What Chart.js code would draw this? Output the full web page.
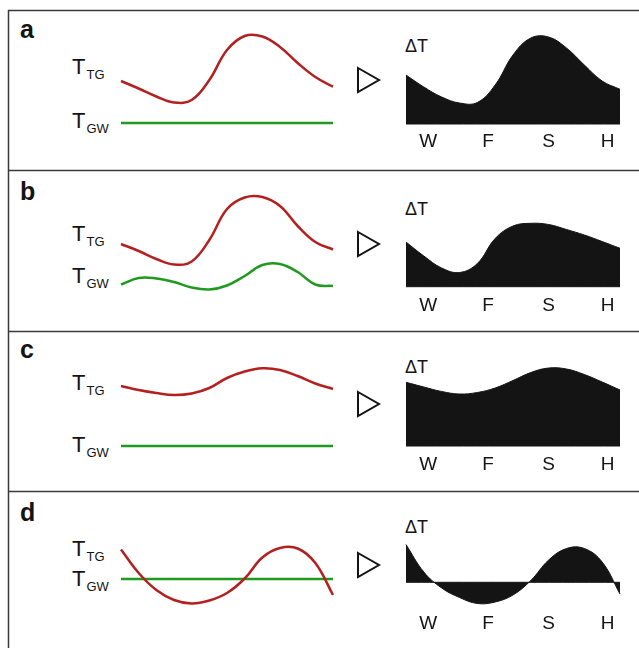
<!DOCTYPE html>
<html>
<head>
<meta charset="utf-8">
<script src="https://cdn.jsdelivr.net/npm/chart.js@4.4.1/dist/chart.umd.min.js"></script>
<style>
  html, body { margin: 0; padding: 0; background: #fff; }
  #wrap { position: relative; width: 639px; height: 648px; overflow: hidden; }
  #wrap canvas { position: absolute; }
  #frame { position: absolute; left: 0; top: 0; }
</style>
</head>
<body>
<div id="wrap">
  <svg id="frame" width="639" height="648" xmlns="http://www.w3.org/2000/svg"></svg>
</div>
<script>
// sample positions along the seasonal cycle (same for every curve)
const steps = [0, 1, 2, 3, 4, 5, 6, 7, 8, 9, 10, 11, 12];
const flatEnds = [0, 12];
const seasons = ['W', 'F', 'S', 'H'];
const seasonPos = [1.25, 4.6, 8.0, 11.3];
const panelLetters = ['a', 'b', 'c', 'd'];

// a
const ttgA = [69, 61.5, 53.5, 47.5, 50, 70, 100, 114, 113.5, 103, 87, 73, 63.3];
const tgwA = [27, 27];
const dtA = [75, 63, 53, 47, 47.5, 65, 95, 112, 113, 102, 85, 69, 60.7];
// b
const ttgB = [66, 59, 51, 45.5, 48.5, 70, 101, 112.5, 113, 104, 84, 68, 60.5];
const tgwB = [25.5, 32, 31.5, 28, 22.5, 20.5, 24.5, 34, 45, 46, 38, 25.5, 24];
const dtB = [68, 54, 42, 37.5, 46.5, 71.5, 84, 86.7, 85.5, 80.5, 75, 68.5, 61.7];
// c
const ttgC = [85, 81, 78, 76, 77.5, 83, 93, 99.5, 102.7, 101, 95, 87.5, 82];
const tgwC = [25, 25];
const dtC = [88.7, 84, 79.5, 77, 78.5, 83, 90.5, 98.5, 103, 102, 96.5, 89, 81];
// d
const ttgD = [81.5, 58, 41, 31, 27.5, 30.5, 38, 52.5, 73.5, 83, 82.5, 68, 36];
const tgwD = [52, 52];
const dtD = [86.5, 59, 43, 33.5, 27.5, 29, 36, 50.5, 71, 82.5, 82.5, 69, 37];

const dtBase = [26, 23.3, 25, 48.7];

const ttgAll = [ttgA, ttgB, ttgC, ttgD];
const tgwAll = [tgwA, tgwB, tgwC, tgwD];
const dtAll = [dtA, dtB, dtC, dtD];

// layout (pixels, relative to each panel's top line)
const panelTop = [10, 170, 331, 491];
const letterBase = [28, 30, 27, 30];
const ttgBase = [64, 71, 59, 65];
const tgwBase = [118, 113, 121, 95];
const deltaBase = [42, 45, 42, 42];
const triTop = [58, 62, 61, 62];
const seasonBase = [137, 141, 139, 138];

const RED = '#b3201f';
const GREEN = '#1f9a1f';
const INK = '#141414';
const FONT = '"Liberation Sans", Arial, Helvetica, sans-serif';

const wrap = document.getElementById('wrap');
const svg = document.getElementById('frame');
const NS = 'http://www.w3.org/2000/svg';

function el(tag, attrs, text) {
  const e = document.createElementNS(NS, tag);
  for (const k in attrs) e.setAttribute(k, attrs[k]);
  if (text) e.textContent = text;
  svg.appendChild(e);
  return e;
}

function pts(xs, ys) {
  return ys.map((y, i) => ({ x: xs[i], y: y }));
}

function addCanvas(left, top, w, h) {
  const c = document.createElement('canvas');
  c.width = w; c.height = h;
  c.style.left = left + 'px'; c.style.top = top + 'px';
  c.style.width = w + 'px'; c.style.height = h + 'px';
  wrap.appendChild(c);
  return c;
}

const seasonPlugin = {
  id: 'seasons',
  afterDraw(chart, args, opts) {
    const ctx = chart.ctx;
    const x = chart.scales.x;
    ctx.save();
    ctx.fillStyle = INK;
    ctx.font = '19px ' + FONT;
    ctx.textAlign = 'center';
    ctx.textBaseline = 'alphabetic';
    seasons.forEach((s, i) => ctx.fillText(s, x.getPixelForValue(seasonPos[i]), opts.baseline));
    ctx.restore();
  }
};

function baseOptions() {
  return {
    responsive: false,
    animation: false,
    events: [],
    layout: { padding: 10 },
    elements: { point: { radius: 0 }, line: { tension: 0.4, capStyle: 'butt' } },
    scales: {
      x: { type: 'linear', min: 0, max: 12, display: false },
      y: { min: 0, max: 120, display: false }
    },
    plugins: { legend: { display: false }, tooltip: { enabled: false } }
  };
}

// frame
el('line', { x1: 8.5, y1: 10, x2: 8.5, y2: 648, stroke: '#3a3a3a', 'stroke-width': 1.5 });
panelTop.forEach(t => {
  el('line', { x1: 8, y1: t + 0.5, x2: 639, y2: t + 0.5, stroke: '#3a3a3a', 'stroke-width': 1.5 });
});

panelTop.forEach((T, p) => {
  // text labels
  el('text', { x: 20, y: T + letterBase[p], 'font-family': FONT, 'font-size': 25, 'font-weight': 'bold', fill: INK }, panelLetters[p]);

  const tt = el('text', { x: 72, y: T + ttgBase[p], 'font-family': FONT, 'font-size': 22, fill: INK }, 'T');
  const s1 = document.createElementNS(NS, 'tspan');
  s1.setAttribute('font-size', 13); s1.setAttribute('dx', 1); s1.setAttribute('dy', 4.5);
  s1.textContent = 'TG'; tt.appendChild(s1);

  const tg = el('text', { x: 72, y: T + tgwBase[p], 'font-family': FONT, 'font-size': 22, fill: INK }, 'T');
  const s2 = document.createElementNS(NS, 'tspan');
  s2.setAttribute('font-size', 13); s2.setAttribute('dx', 1); s2.setAttribute('dy', 4.5);
  s2.textContent = 'GW'; tg.appendChild(s2);

  el('text', { x: 405, y: T + deltaBase[p], 'font-family': FONT, 'font-size': 18, fill: INK }, '\u0394T');

  const t0 = T + triTop[p];
  el('polygon', { points: `358,${t0} 379,${t0 + 12} 358,${t0 + 24}`, fill: 'none', stroke: INK, 'stroke-width': 2 });

  // left: the two temperature curves
  const tgw = tgwAll[p];
  new Chart(addCanvas(111, T + 10, 232, 140), {
    type: 'line',
    data: {
      datasets: [
        { data: pts(steps, ttgAll[p]), borderColor: RED, borderWidth: 2.5, fill: false, clip: false },
        { data: pts(tgw.length === 2 ? flatEnds : steps, tgw), borderColor: GREEN, borderWidth: 2.5, fill: false, clip: false }
      ]
    },
    options: baseOptions()
  });

  // right: the difference, filled to its zero line
  const opts = baseOptions();
  opts.plugins.seasons = { baseline: seasonBase[p] - 10 };
  new Chart(addCanvas(396, T + 10, 234, 140), {
    type: 'line',
    data: {
      datasets: [
        { data: pts(steps, dtAll[p]), borderColor: INK, backgroundColor: INK, borderWidth: 1, fill: { value: dtBase[p] }, clip: false },
        { data: pts(flatEnds, [dtBase[p], dtBase[p]]), borderColor: INK, borderWidth: 1, fill: false, clip: false }
      ]
    },
    options: opts,
    plugins: [seasonPlugin]
  });
});
</script>
</body>
</html>
